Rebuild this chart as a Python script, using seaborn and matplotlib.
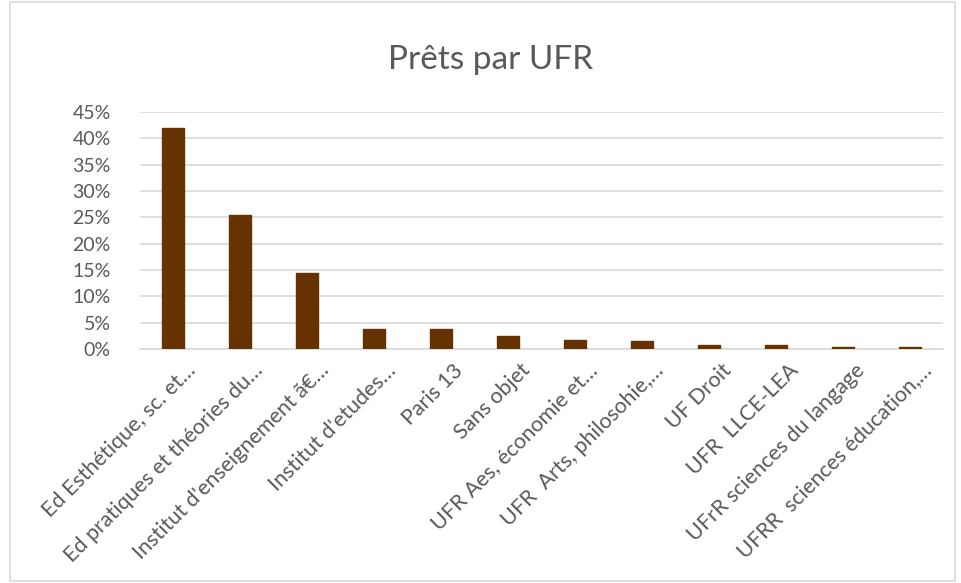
import matplotlib
matplotlib.use("Agg")
import matplotlib.pyplot as plt
import matplotlib.transforms as mtrans
import seaborn as sns
import pandas as pd
from matplotlib.patches import Rectangle
from matplotlib.ticker import FuncFormatter, MultipleLocator

categories = [
    "Ed Esthétique, sc. et…",
    "Ed pratiques et théories du…",
    "Institut d'enseignement ã€…",
    "Institut d'etudes…",
    "Paris 13",
    "Sans objet",
    "UFR Aes, économie et…",
    "UFR  Arts, philosohie,…",
    "UF Droit",
    "UFR  LLCE-LEA",
    "UFrR sciences du langage",
    "UFRR  sciences éducation,…",
]
values = [0.420, 0.255, 0.144, 0.038, 0.038, 0.025, 0.017, 0.0145, 0.0075, 0.007, 0.004, 0.0035]

df = pd.DataFrame({"cat": categories, "val": values})

sns.set_theme(style="white")
plt.rcParams["font.family"] = ["Lato", "DejaVu Sans"]

fig = plt.figure(figsize=(9.61, 5.83), dpi=100)
ax = fig.add_axes([140/961, 1 - 349/583, (943-140)/961, (349-112)/583])

sns.barplot(data=df, x="cat", y="val", color="#663300", width=0.33, ax=ax,
            saturation=1, edgecolor="#663300", zorder=3)

ax.set_ylim(0, 0.45)
ax.yaxis.set_major_locator(MultipleLocator(0.05))
ax.yaxis.set_major_formatter(FuncFormatter(lambda v, p: f"{v*100:.0f}%"))
ax.grid(axis="y", color="#d9d9d9", linewidth=1.2, zorder=0)
ax.set_axisbelow(True)
for s in ["top", "right", "left"]:
    ax.spines[s].set_visible(False)
ax.spines["bottom"].set_color("#d9d9d9")
ax.spines["bottom"].set_linewidth(1.2)
ax.set_xlabel("")
ax.set_ylabel("")
ax.tick_params(axis="y", labelsize=14, colors="#595959", length=0, pad=21)
ax.tick_params(axis="x", labelsize=15.5, colors="#595959", length=0, pad=8)
offset = mtrans.ScaledTranslation(12/100, 0, fig.dpi_scale_trans)
for lbl in ax.get_xticklabels():
    lbl.set_rotation(45)
    lbl.set_ha("right")
    lbl.set_rotation_mode("anchor")
    lbl.set_transform(lbl.get_transform() + offset)
ax.set_xlim(-0.5, len(categories) - 0.5)

fig.text(491/961, 1 - 60/583, "Prêts par UFR", ha="center", va="center",
         fontsize=24, color="#595959")

fig.patches.append(Rectangle((10/961, 2/583), (955-10)/961, (581-2)/583,
                             transform=fig.transFigure, fill=False,
                             edgecolor="#d9d9d9", linewidth=1.2))

fig.savefig("out.png", dpi=100, facecolor="white")
